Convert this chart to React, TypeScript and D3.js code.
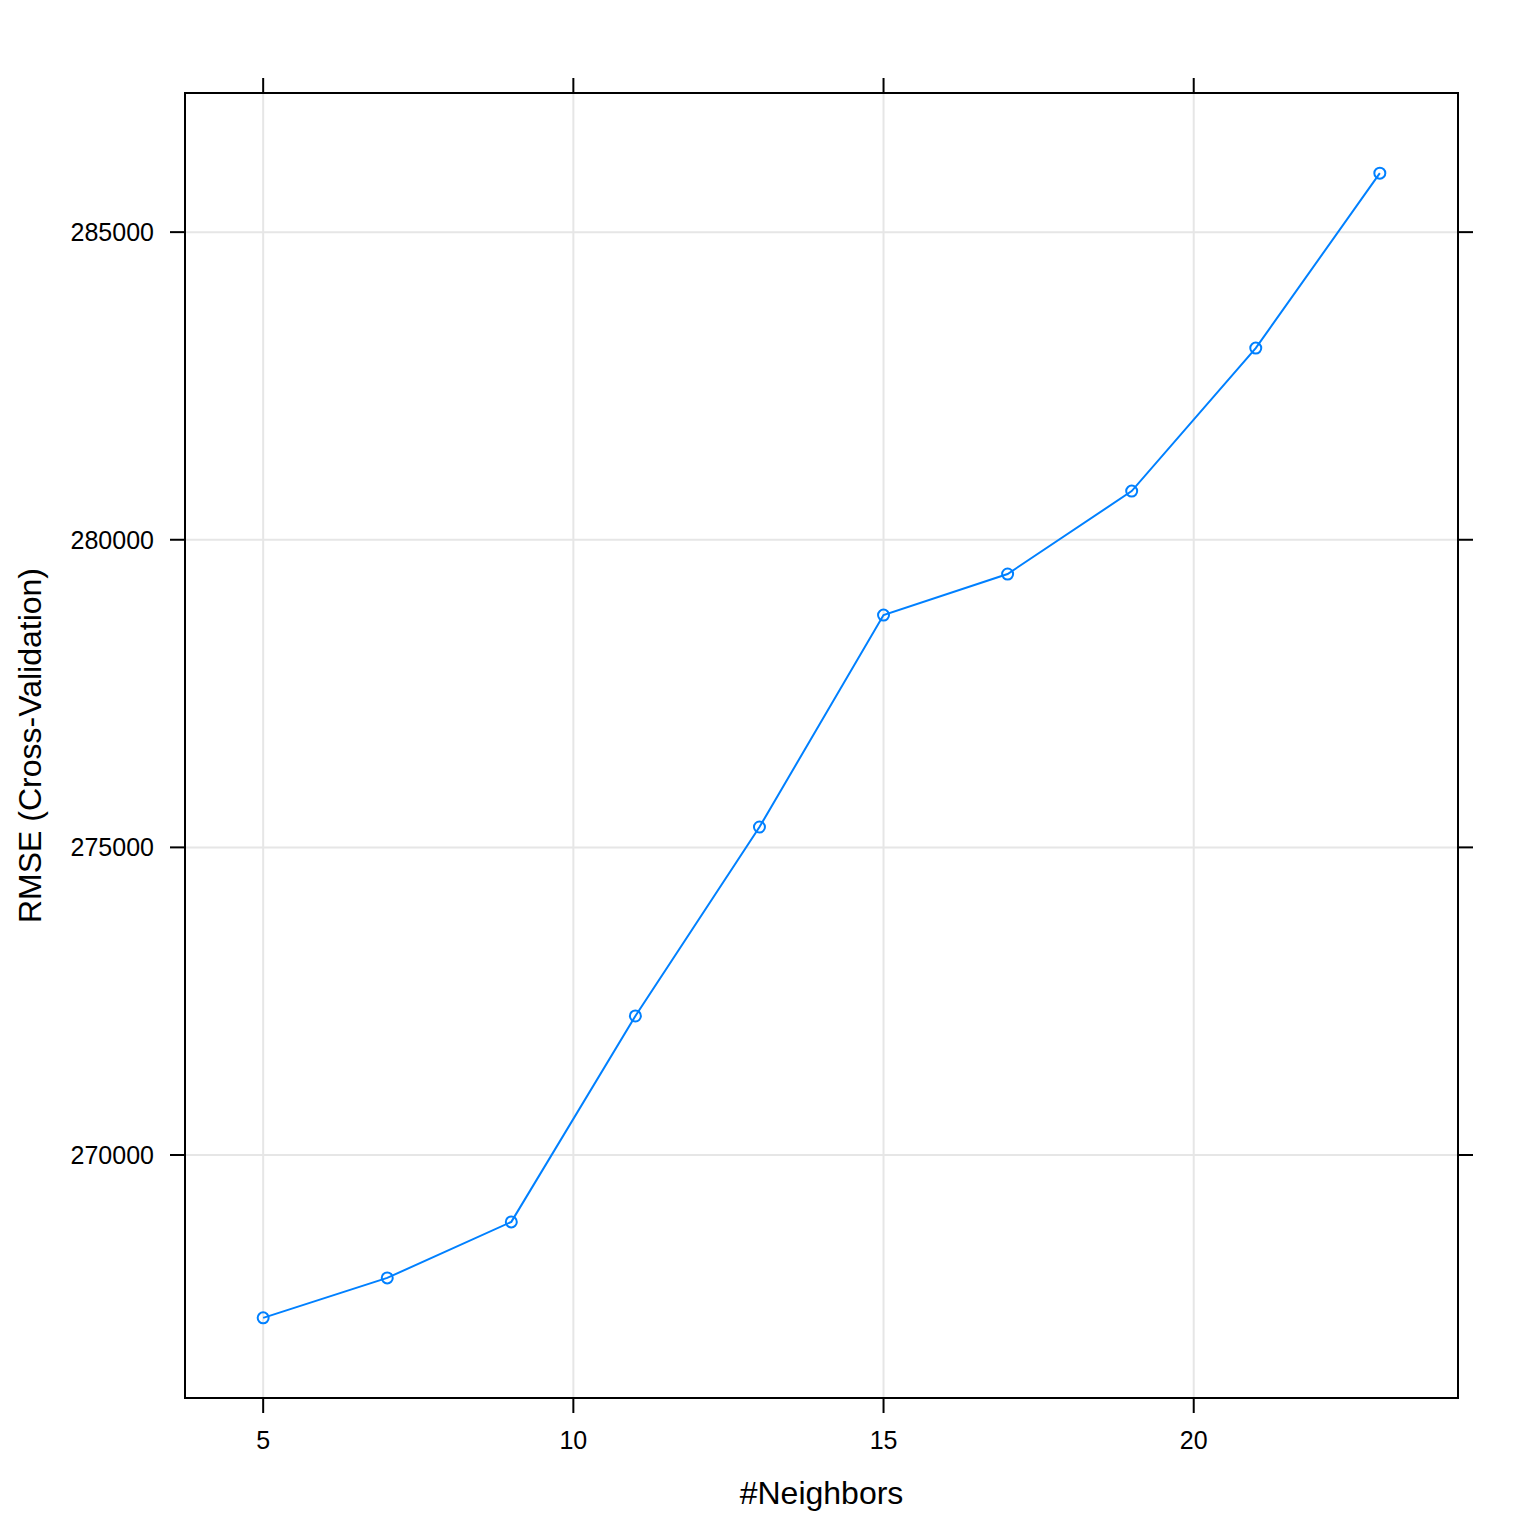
import React from "react";
import * as d3 from "d3";

const neighbors = [5, 7, 9, 11, 13, 15, 17, 19, 21, 23];
const rmse = [267353, 268003, 268913, 272260, 275331, 278776, 279443, 280791, 283115, 285959];
const xTicks = [5, 10, 15, 20];
const yTicks = [270000, 275000, 280000, 285000];
const xTitle = "#Neighbors";
const yTitle = "RMSE (Cross-Validation)";

const W = 1536, H = 1536;
const L = 185, R = 1458, T = 93, B = 1398;
const blue = "#0080ff";
const font = "Arial, 'Liberation Sans', sans-serif";

function extend(ext: [number, number]): [number, number] {
  const d = (ext[1] - ext[0]) * 0.07;
  return [ext[0] - d, ext[1] + d];
}

export default function App() {
  const x = d3.scaleLinear().domain(extend(d3.extent(neighbors) as [number, number])).range([L, R]);
  const y = d3.scaleLinear().domain(extend(d3.extent(rmse) as [number, number])).range([B, T]);
  const pts = neighbors.map((n, i) => [x(n), y(rmse[i])] as [number, number]);
  const line = d3.line()(pts) || "";
  const tl = 15;
  return (
    <svg width={W} height={H} style={{ position: "absolute", left: 0, top: 0 }} fontFamily={font}>
      <rect x={0} y={0} width={W} height={H} fill="white" />
      {xTicks.map((t) => (
        <line key={"gx" + t} x1={x(t)} x2={x(t)} y1={T} y2={B} stroke="#e6e6e6" strokeWidth={2} />
      ))}
      {yTicks.map((t) => (
        <line key={"gy" + t} x1={L} x2={R} y1={y(t)} y2={y(t)} stroke="#e6e6e6" strokeWidth={2} />
      ))}
      <path d={line} fill="none" stroke={blue} strokeWidth={2} />
      {pts.map((p, i) => (
        <circle key={i} cx={p[0]} cy={p[1]} r={5.5} fill="none" stroke={blue} strokeWidth={2} />
      ))}
      <rect x={L} y={T} width={R - L} height={B - T} fill="none" stroke="black" strokeWidth={2} />
      {xTicks.map((t) => (
        <g key={"tx" + t}>
          <line x1={x(t)} x2={x(t)} y1={T - tl} y2={T} stroke="black" strokeWidth={2} />
          <line x1={x(t)} x2={x(t)} y1={B} y2={B + tl} stroke="black" strokeWidth={2} />
          <text x={x(t)} y={1449} textAnchor="middle" fontSize={25} fill="black">{t}</text>
        </g>
      ))}
      {yTicks.map((t) => (
        <g key={"ty" + t}>
          <line x1={L - tl} x2={L} y1={y(t)} y2={y(t)} stroke="black" strokeWidth={2} />
          <line x1={R} x2={R + tl} y1={y(t)} y2={y(t)} stroke="black" strokeWidth={2} />
          <text x={154} y={y(t)} dy="0.36em" textAnchor="end" fontSize={25} fill="black">{t}</text>
        </g>
      ))}
      <text x={(L + R) / 2} y={1504} textAnchor="middle" fontSize={32} fill="black">{xTitle}</text>
      <text transform={`translate(41,${(T + B) / 2}) rotate(-90)`} textAnchor="middle" fontSize={32} fill="black">{yTitle}</text>
    </svg>
  );
}
